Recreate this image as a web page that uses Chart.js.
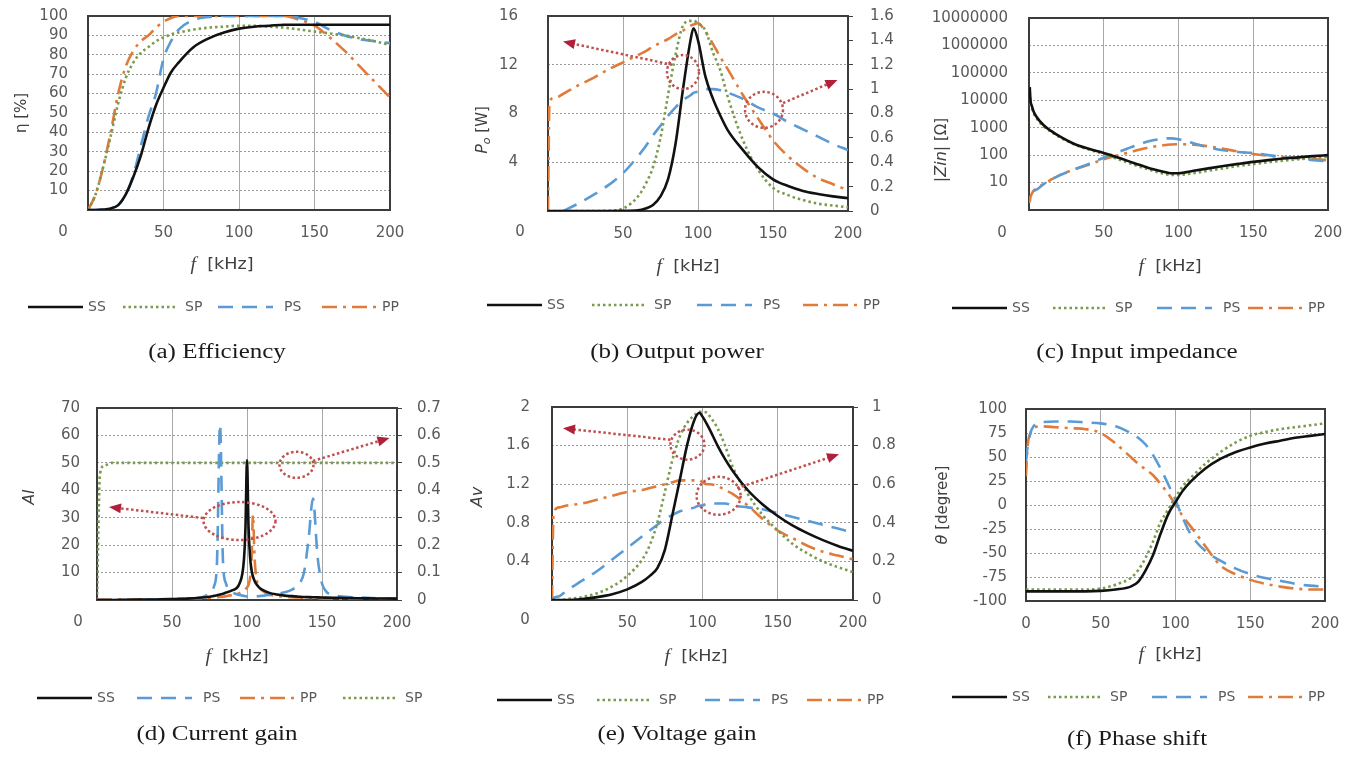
<!DOCTYPE html>
<html>
<head>
<meta charset="utf-8">
<script src="https://cdn.jsdelivr.net/npm/chart.js@4.4.0/dist/chart.umd.min.js"></script>
<style>
  html, body { margin: 0; padding: 0; background: #fff; overflow: hidden; width: 1349px; height: 758px; }
  canvas { position: absolute; }
</style>
</head>
<body>
<canvas id="cA" width="440" height="380" style="left:0;top:0"></canvas>
<canvas id="cB" width="470" height="380" style="left:440px;top:0"></canvas>
<canvas id="cC" width="480" height="380" style="left:880px;top:0"></canvas>
<canvas id="cD" width="450" height="378" style="left:0;top:380px"></canvas>
<canvas id="cE" width="470" height="378" style="left:440px;top:380px"></canvas>
<canvas id="cF" width="480" height="378" style="left:880px;top:380px"></canvas>
<script>
// ---- (a) efficiency [%]
const fA = [0, 5, 10, 15, 20, 25, 30, 35, 40, 45, 50, 55, 60, 70, 80, 90, 100, 110, 120, 130, 140, 150, 160, 170, 180, 190, 200];
const effSS = [0, 0, 0.2, 0.8, 2.5, 8, 17, 28, 42, 54, 63, 71, 76, 84, 88.5, 91.5, 93.5, 94.5, 95, 95.5, 95.5, 95.5, 95.5, 95.5, 95.5, 95.5, 95.5];
const effSP = [0, 8, 22, 38, 55, 68, 76, 81, 84, 87, 89, 90.5, 91.5, 93, 94, 94.5, 95, 95, 94.5, 94, 93, 92, 91, 90, 88.5, 87, 85];
const effPS = [0, 0, 0.2, 0.8, 2.5, 8, 18, 33, 48, 60, 78, 87, 93, 98, 99.5, 100, 100, 100, 100, 100, 99, 97, 93, 90, 88, 87, 86];
const effPP = [0, 8, 22, 40, 60, 74, 82, 87, 90, 94, 97, 99, 100, 100, 100, 100, 100, 100, 100, 100, 98, 95, 89, 82, 74, 66, 58];

// ---- (b) output power: SS, SP in W (left), PS, PP on right axis
const fB = [0, 1, 5, 10, 20, 30, 40, 50, 60, 65, 70, 75, 80, 85, 90, 95, 97, 100, 105, 110, 115, 120, 130, 140, 150, 160, 170, 180, 190, 200];
const powSS = [0, 0, 0, 0, 0, 0, 0, 0.01, 0.05, 0.2, 0.5, 1.2, 2.6, 5.5, 10, 14, 15, 14, 11, 9.2, 7.8, 6.6, 5, 3.6, 2.6, 2.05, 1.65, 1.4, 1.2, 1.05];
const powSP = [0, 0, 0, 0, 0, 0, 0.02, 0.2, 1.2, 2.2, 3.6, 6, 9.5, 12.8, 15.2, 15.6, 15.6, 15.4, 14.8, 13, 11.5, 9.3, 5.8, 3.4, 1.9, 1.3, 0.9, 0.6, 0.45, 0.3];
const powPS = [null, null, null, 0, 0.06, 0.13, 0.21, 0.31, 0.45, 0.53, 0.62, 0.7, 0.78, 0.85, 0.91, 0.95, 0.97, 0.98, 1.0, 1.0, 0.99, 0.97, 0.92, 0.85, 0.8, 0.73, 0.67, 0.61, 0.55, 0.5];
const powPP = [0, 0.9, 0.93, 0.96, 1.03, 1.09, 1.16, 1.22, 1.28, 1.31, 1.35, 1.38, 1.41, 1.45, 1.48, 1.52, 1.53, 1.54, 1.47, 1.37, 1.26, 1.16, 0.95, 0.76, 0.58, 0.45, 0.35, 0.27, 0.22, 0.17];

// ---- (c) input impedance |Zin| [ohm], log axis
const fC = [0, 0.5, 1, 2, 3, 5, 10, 15, 20, 30, 40, 50, 60, 70, 80, 90, 95, 100, 110, 120, 130, 140, 150, 160, 170, 180, 190, 200];
const zSS = [null, 30000, 10000, 6000, 4000, 2500, 1200, 750, 500, 260, 170, 120, 80, 52, 34, 25, 22, 22, 27, 33, 40, 48, 57, 66, 75, 83, 92, 100];
const zSP = [null, 20000, 8000, 5000, 3500, 2200, 1100, 700, 470, 250, 160, 110, 70, 45, 30, 21, 19, 19, 22, 27, 33, 40, 47, 55, 63, 71, 79, 87];
const zPS = [null, null, null, null, 5, 5.5, 9, 13, 18, 30, 48, 80, 130, 210, 320, 400, 410, 380, 270, 190, 150, 130, 120, 100, 85, 75, 66, 60];
const zPP = [2, 2, 3, 4, 5, 6, 9, 13, 18, 30, 45, 70, 100, 140, 190, 230, 245, 250, 240, 210, 170, 135, 110, 95, 85, 78, 72, 65];
const zTicks = [1, 10, 100, 1000, 10000, 100000, 1000000, 10000000];

// ---- (d) current gain: SS, PS, PP left, SP right
const fD = [0, 2, 5, 10, 20, 40, 60, 70, 75, 78, 80, 82, 84, 86, 90, 95, 98, 99, 100, 101, 102, 103, 104, 105, 106, 108, 110, 115, 120, 125, 130, 135, 138, 141, 144, 147, 150, 153, 160, 170, 180, 190, 200];
const aiSS = [0, 0, 0, 0, 0.1, 0.2, 0.5, 0.9, 1.2, 1.5, 1.7, 2, 2.3, 2.7, 3.5, 6, 15, 27, 51, 27, 16, 11, 8.5, 7, 6, 4.6, 3.8, 2.6, 2, 1.6, 1.4, 1.2, 1.1, 1.05, 1, 0.95, 0.9, 0.85, 0.8, 0.7, 0.6, 0.55, 0.5];
const aiPS = [0, 0, 0, 0, 0, 0.2, 0.5, 1, 2.5, 5, 14, 64, 14, 6, 3, 1.8, 1.5, 1.4, 1.3, 1.3, 1.3, 1.3, 1.3, 1.3, 1.3, 1.4, 1.5, 1.8, 2.2, 2.8, 3.8, 6, 10, 22, 37, 16, 6, 3, 1.5, 1, 0.8, 0.6, 0.5];
const aiPP = [0.2, 0.2, 0.2, 0.2, 0.2, 0.3, 0.5, 0.7, 0.8, 0.9, 1, 1.1, 1.2, 1.4, 1.8, 2.5, 3.5, 4, 4.5, 5.5, 8, 14, 31, 16, 9, 5, 3.5, 2, 1.5, 1.2, 1, 0.9, 0.8, 0.8, 0.7, 0.7, 0.6, 0.6, 0.5, 0.5, 0.4, 0.4, 0.4];
const aiSP = [0, 0.46, 0.49, 0.5, 0.5, 0.5, 0.5, 0.5, 0.5, 0.5, 0.5, 0.5, 0.5, 0.5, 0.5, 0.5, 0.5, 0.5, 0.5, 0.5, 0.5, 0.5, 0.5, 0.5, 0.5, 0.5, 0.5, 0.5, 0.5, 0.5, 0.5, 0.5, 0.5, 0.5, 0.5, 0.5, 0.5, 0.5, 0.5, 0.5, 0.5, 0.5, 0.5];

// ---- (e) voltage gain: SS, SP left, PS, PP right
const fE = [0, 1, 5, 10, 20, 30, 40, 50, 60, 65, 70, 75, 80, 85, 90, 95, 98, 100, 103, 105, 110, 115, 120, 130, 140, 150, 160, 170, 180, 190, 200];
const avSS = [0, 0, 0, 0, 0.01, 0.03, 0.06, 0.11, 0.19, 0.25, 0.33, 0.52, 0.88, 1.25, 1.62, 1.88, 1.94, 1.9, 1.82, 1.76, 1.6, 1.46, 1.34, 1.14, 0.99, 0.87, 0.77, 0.69, 0.62, 0.56, 0.51];
const avSP = [0, 0, 0, 0.01, 0.03, 0.07, 0.14, 0.25, 0.42, 0.57, 0.8, 1.12, 1.45, 1.7, 1.84, 1.92, 1.95, 1.95, 1.94, 1.9, 1.78, 1.6, 1.38, 1.1, 0.88, 0.72, 0.58, 0.48, 0.4, 0.34, 0.29];
const avPS = [0, 0.01, 0.02, 0.05, 0.1, 0.15, 0.21, 0.27, 0.33, 0.36, 0.39, 0.42, 0.44, 0.46, 0.47, 0.48, 0.49, 0.49, 0.5, 0.5, 0.5, 0.5, 0.49, 0.48, 0.47, 0.45, 0.43, 0.41, 0.39, 0.37, 0.35];
const avPP = [0, 0.45, 0.48, 0.49, 0.5, 0.52, 0.54, 0.56, 0.57, 0.58, 0.59, 0.6, 0.61, 0.62, 0.62, 0.62, 0.62, 0.61, 0.6, 0.6, 0.59, 0.57, 0.55, 0.49, 0.42, 0.36, 0.32, 0.28, 0.25, 0.23, 0.21];

// ---- (f) phase shift [degree]
const fF = [0, 1, 3, 5, 10, 20, 30, 40, 50, 60, 70, 75, 80, 85, 90, 95, 100, 105, 110, 120, 130, 140, 150, 160, 170, 180, 190, 200];
const phSS = [-90, -90, -90, -90, -90, -90, -90, -90, -89.5, -88, -85, -80, -68, -52, -30, -10, 3, 15, 24, 38, 48, 55, 60, 64, 67, 70, 72, 74];
const phSP = [-88, -88, -88, -88, -88, -88, -88, -88, -87, -83, -76, -68, -55, -38, -18, -5, 8, 20, 28, 43, 55, 65, 72, 76, 79, 81, 83, 85];
const phPS = [45, 60, 75, 82, 86, 87, 87, 86, 85, 82, 75, 70, 63, 52, 38, 22, 5, -14, -30, -48, -58, -66, -72, -76, -79, -82, -84, -85];
const phPP = [30, 60, 75, 80, 82, 81, 80, 79, 75, 64, 50, 43, 37, 31, 22, 12, 0, -12, -22, -43, -63, -72, -78, -82, -85, -87, -88, -88];

const STY = {
  SS: { color: '#111111', dash: [], width: 2.6 },
  SP: { color: '#7a9a4e', dash: [2.5, 3], width: 2.6 },
  PS: { color: '#5b9bd5', dash: [15, 9], width: 2.6 },
  PP: { color: '#e07b39', dash: [15, 6, 3, 6], width: 2.6 }
};
const TXT_OFF = { SS: 60, SP: 62, PS: 66, PP: 60 };
const GREY = '#595959';
const TICK = { family: 'DejaVu Sans', size: 15 };
const num = v => String(+Number(v).toFixed(2));

// draw a row of text pieces with mixed fonts, centred on x,y
function label(c, parts, x, y, rot, sx) {
  c.save();
  c.translate(x, y);
  if (rot) c.rotate(rot);
  c.scale(sx || 1, 1);
  let w = 0;
  for (const p of parts) { c.font = p[1]; w += c.measureText(p[0]).width; }
  let px = -w / 2;
  c.textAlign = 'left';
  c.textBaseline = 'middle';
  for (const p of parts) {
    c.font = p[1];
    c.fillStyle = p[3] || '#404040';
    c.fillText(p[0], px, p[2] || 0);
    px += c.measureText(p[0]).width;
  }
  c.restore();
}

// no label overhang padding: the plot box is placed by hand
function noPad(s) {
  s.paddingTop = 0;
  s.paddingBottom = 0;
  s.paddingLeft = 0;
  s.paddingRight = 0;
}

function makeDecor(p) {
  return {
    id: 'decor',
    beforeDatasetsDraw(chart) {
      const a = chart.chartArea, c = chart.ctx;
      c.save();
      c.strokeStyle = '#3c3c3c';
      c.lineWidth = 2;
      c.strokeRect(a.left, a.top, a.right - a.left, a.bottom - a.top);
      c.restore();
    },
    afterDraw(chart) {
      const c = chart.ctx;
      // red callouts, placed in data units of the left axis
      if (p.notes) {
        const xs = chart.scales.x, ys = chart.scales.y;
        const P = (f, v) => [xs.getPixelForValue(f), ys.getPixelForValue(v)];
        c.save();
        c.strokeStyle = '#c0504d';
        c.fillStyle = '#b0203a';
        c.lineWidth = 2.5;
        p.notes.rings.forEach(r => {
          const [x, y] = P(r[0], r[1]);
          c.setLineDash([2.5, 2.5]);
          c.beginPath();
          c.ellipse(x, y, r[2], r[3], 0, 0, Math.PI * 2);
          c.stroke();
        });
        p.notes.arrows.forEach(r => {
          const [x1, y1] = P(r[0], r[1]);
          const [x2, y2] = P(r[2], r[3]);
          const ang = Math.atan2(y2 - y1, x2 - x1);
          c.setLineDash([2.5, 2.5]);
          c.beginPath();
          c.moveTo(x1, y1);
          c.lineTo(x2 - 9 * Math.cos(ang), y2 - 9 * Math.sin(ang));
          c.stroke();
          c.setLineDash([]);
          c.beginPath();
          c.moveTo(x2, y2);
          c.lineTo(x2 - 12 * Math.cos(ang) + 5 * Math.sin(ang), y2 - 12 * Math.sin(ang) - 5 * Math.cos(ang));
          c.lineTo(x2 - 12 * Math.cos(ang) - 5 * Math.sin(ang), y2 - 12 * Math.sin(ang) + 5 * Math.cos(ang));
          c.closePath();
          c.fill();
        });
        c.restore();
      }
      c.save();
      c.translate(-p.ox, -p.oy);
      if (p.zero) {
        c.font = '15px "DejaVu Sans"';
        c.fillStyle = GREY;
        c.textAlign = 'center';
        c.textBaseline = 'middle';
        c.fillText('0', p.zero[0], p.zero[1]);
      }
      label(c, [['f', 'italic 18px "Liberation Serif"'], ['  [kHz]', '16px "DejaVu Sans"']], p.xTitle[0], p.xTitle[1], 0, 1.1);
      label(c, p.yTitle[2], p.yTitle[0], p.yTitle[1], -Math.PI / 2, 1);
      // legend
      p.legend.forEach((k, i) => {
        const x = p.legX[i], y = p.legY;
        c.save();
        c.strokeStyle = STY[k].color;
        c.lineWidth = STY[k].width;
        c.setLineDash(STY[k].dash);
        c.beginPath();
        c.moveTo(x, y);
        c.lineTo(x + 55, y);
        c.stroke();
        c.restore();
        c.font = '14px "DejaVu Sans"';
        c.fillStyle = GREY;
        c.textAlign = 'left';
        c.textBaseline = 'middle';
        c.fillText(k, x + TXT_OFF[k], y);
      });
      label(c, [[p.caption, '20px "Liberation Serif"', 0, '#1a1a1a']], p.capPos[0], p.capPos[1], 0, 1.25);
      c.restore();
    }
  };
}

function build(id, p) {
  const cv = document.getElementById(id);
  const W = cv.width, H = cv.height;
  const L = p.plot[0] - p.ox, T = p.plot[1] - p.oy, R = p.plot[2] - p.ox, B = p.plot[3] - p.oy;
  const datasets = p.series.map(s => ({
    label: s[0],
    data: p.f.map((f, i) => ({ x: f, y: s[1][i] })),
    yAxisID: s[2] || 'y',
    borderColor: STY[s[0]].color,
    borderWidth: STY[s[0]].width,
    borderDash: STY[s[0]].dash,
    pointRadius: 0,
    fill: false,
    cubicInterpolationMode: 'monotone'
  }));
  const scales = {
    x: {
      type: 'linear', min: 0, max: 200,
      ticks: {
        stepSize: 50, padding: 14, color: GREY, font: TICK, maxRotation: 0, autoSkip: false,
        callback: v => (v === 0 && p.zero) ? '' : v
      },
      grid: { color: '#a8a8a8', lineWidth: 1, drawTicks: false },
      border: { display: false },
      afterFit: s => { s.height = H - B; noPad(s); }
    },
    y: Object.assign({
      position: 'left',
      ticks: Object.assign({ color: GREY, font: TICK, padding: p.yPad, autoSkip: false }, p.yTicks),
      grid: { color: '#9a9a9a', lineWidth: 1, drawTicks: false },
      border: { display: false, dash: [2, 2] },
      afterFit: s => { s.width = L; noPad(s); }
    }, p.yScale)
  };
  if (p.y2Scale) {
    scales.y2 = Object.assign({
      position: 'right',
      ticks: Object.assign({ color: GREY, font: TICK, padding: p.y2Pad, autoSkip: false }, p.y2Ticks),
      grid: { drawOnChartArea: false, drawTicks: true, tickLength: 5, color: '#404040' },
      border: { display: false },
      afterFit: s => { s.width = W - R; noPad(s); }
    }, p.y2Scale);
  }
  return new Chart(cv, {
    type: 'line',
    data: { datasets },
    options: {
      responsive: false,
      animation: false,
      devicePixelRatio: 1,
      layout: { autoPadding: false, padding: { top: T, left: 0, bottom: 0, right: p.y2Scale ? 0 : W - R } },
      plugins: { legend: { display: false }, tooltip: { enabled: false } },
      scales
    },
    plugins: [makeDecor(p)]
  });
}

const hideZero = v => v === 0 ? '' : num(v);

build('cA', {
  ox: 0, oy: 0, plot: [88, 16, 390, 210], f: fA,
  series: [['SS', effSS], ['SP', effSP], ['PS', effPS], ['PP', effPP]],
  yScale: { min: 0, max: 100 }, yTicks: { stepSize: 10, callback: hideZero }, yPad: 20,
  zero: [63, 232], xTitle: [222, 265],
  yTitle: [22, 113, [['η [%]', '15px "DejaVu Sans"']]],
  legend: ['SS', 'SP', 'PS', 'PP'], legX: [28, 123, 218, 322], legY: 307,
  caption: '(a) Efficiency', capPos: [217, 353]
});

build('cB', {
  ox: 440, oy: 0, plot: [548, 16, 848, 211], f: fB,
  series: [['SS', powSS], ['SP', powSP], ['PS', powPS, 'y2'], ['PP', powPP, 'y2']],
  yScale: { min: 0, max: 16 }, yTicks: { stepSize: 4, callback: hideZero }, yPad: 30,
  y2Scale: { min: 0, max: 1.6 }, y2Ticks: { stepSize: 0.2, callback: num }, y2Pad: 17,
  zero: [520, 232], xTitle: [688, 267],
  yTitle: [483, 130, [['P', 'italic 16px "DejaVu Sans"'], ['o', 'italic 11px "DejaVu Sans"', 4], [' [W]', '15px "DejaVu Sans"']]],
  legend: ['SS', 'SP', 'PS', 'PP'], legX: [487, 592, 697, 803], legY: 305,
  caption: '(b) Output power', capPos: [677, 353],
  notes: {
    rings: [[90, 11.4, 16, 17], [144, 8.3, 19, 18]],
    arrows: [[82.7, 12.0, 10, 13.9], [156.7, 8.86, 193, 10.75]]
  }
});

build('cC', {
  ox: 880, oy: 0, plot: [1029, 18, 1328, 210], f: fC,
  series: [['SS', zSS], ['SP', zSP], ['PS', zPS], ['PP', zPP]],
  yScale: {
    type: 'logarithmic', min: 1, max: 10000000,
    afterBuildTicks: s => { s.ticks = zTicks.map(v => ({ value: v })); }
  },
  yTicks: { callback: v => v >= 10 ? String(Math.round(v)) : '' }, yPad: 21,
  zero: [1002, 233], xTitle: [1170, 267],
  yTitle: [942, 150, [['|Zin|', 'italic 16px "DejaVu Sans"'], [' [Ω]', '15px "DejaVu Sans"']]],
  legend: ['SS', 'SP', 'PS', 'PP'], legX: [952, 1053, 1157, 1248], legY: 308,
  caption: '(c) Input impedance', capPos: [1137, 353]
});

build('cD', {
  ox: 0, oy: 380, plot: [97, 408, 397, 600], f: fD,
  series: [['SS', aiSS], ['PS', aiPS], ['PP', aiPP], ['SP', aiSP, 'y2']],
  yScale: { min: 0, max: 70 }, yTicks: { stepSize: 10, callback: hideZero }, yPad: 17,
  y2Scale: { min: 0, max: 0.7 }, y2Ticks: { stepSize: 0.1, callback: num }, y2Pad: 15,
  zero: [78, 622], xTitle: [237, 657],
  yTitle: [30, 497, [['AI', 'italic 16px "DejaVu Sans"']]],
  legend: ['SS', 'PS', 'PP', 'SP'], legX: [37, 137, 240, 343], legY: 698,
  caption: '(d) Current gain', capPos: [217, 735],
  notes: {
    rings: [[95, 28.8, 36, 19], [133, 49.3, 17, 13]],
    arrows: [[70.7, 29.9, 8, 33.9], [144, 50.7, 195, 59.1]]
  }
});

build('cE', {
  ox: 440, oy: 380, plot: [552, 407, 853, 600], f: fE,
  series: [['SS', avSS], ['SP', avSP], ['PS', avPS, 'y2'], ['PP', avPP, 'y2']],
  yScale: { min: 0, max: 2 }, yTicks: { stepSize: 0.4, callback: hideZero }, yPad: 22,
  y2Scale: { min: 0, max: 1 }, y2Ticks: { stepSize: 0.2, callback: num }, y2Pad: 14,
  zero: [525, 620], xTitle: [696, 657],
  yTitle: [478, 497, [['Av', 'italic 16px "DejaVu Sans"']]],
  legend: ['SS', 'SP', 'PS', 'PP'], legX: [497, 597, 705, 807], legY: 700,
  caption: '(e) Voltage gain', capPos: [677, 735],
  notes: {
    rings: [[90, 1.61, 17, 15], [110.7, 1.08, 22, 19]],
    arrows: [[78.7, 1.66, 7.3, 1.78], [123, 1.16, 190.7, 1.51]]
  }
});

build('cF', {
  ox: 880, oy: 380, plot: [1026, 409, 1325, 601], f: fF,
  series: [['SS', phSS], ['SP', phSP], ['PS', phPS], ['PP', phPP]],
  yScale: { min: -100, max: 100 }, yTicks: { stepSize: 25, callback: num }, yPad: 19,
  zero: null, xTitle: [1170, 655],
  yTitle: [943, 505, [['θ', 'italic 16px "DejaVu Sans"'], [' [degree]', '15px "DejaVu Sans"']]],
  legend: ['SS', 'SP', 'PS', 'PP'], legX: [952, 1048, 1152, 1248], legY: 697,
  caption: '(f) Phase shift', capPos: [1137, 740]
});
</script>
</body>
</html>
